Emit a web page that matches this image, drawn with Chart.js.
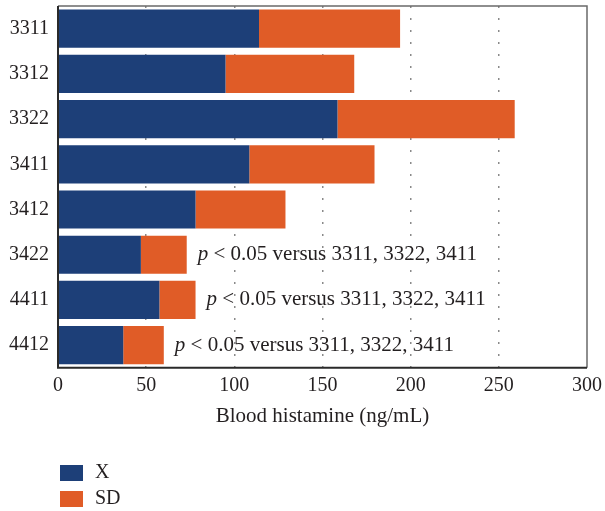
<!DOCTYPE html>
<html>
<head>
<meta charset="utf-8">
<script src="https://cdn.jsdelivr.net/npm/chart.js@4.4.1/dist/chart.umd.min.js"></script>
<style>
  html, body { margin: 0; padding: 0; background: #fff; }
  #wrap { width: 605px; height: 511px; position: relative; }
</style>
</head>
<body>
<div id="wrap"><canvas id="chart"></canvas></div>
<script>
// Blood histamine by group: mean (X) with SD stacked on top
const categories = ['3311', '3312', '3322', '3411', '3412', '3422', '4411', '4412'];
const meanValues = [114, 95, 158.5, 108.5, 78, 47, 57.5, 37];
const sdValues = [80, 73, 100.5, 71, 51, 26, 20.5, 23];
const xTicks = [0, 50, 100, 150, 200, 250, 300];
const seriesNames = ['X', 'SD'];
const markedGroups = ['3422', '4411', '4412'];
const noteRest = ' < 0.05 versus 3311, 3322, 3411';
const axisTitle = 'Blood histamine (ng/mL)';

const FONT = "'Liberation Serif', 'Times New Roman', serif";
const TEXT = '#231f20';
const BLUE = '#1d3f78';
const ORANGE = '#e05c27';

// Frame around the plot area
const framePlugin = {
  id: 'frame',
  afterDraw(chart) {
    const { ctx, chartArea: a } = chart;
    ctx.save();
    ctx.lineWidth = 1.5;
    ctx.strokeStyle = '#6a6a6a';
    ctx.beginPath();
    ctx.moveTo(a.left, a.top); ctx.lineTo(a.right, a.top); ctx.lineTo(a.right, a.bottom);
    ctx.stroke();
    ctx.lineWidth = 2;
    ctx.strokeStyle = '#2a2a2a';
    ctx.beginPath();
    ctx.moveTo(a.left, a.top); ctx.lineTo(a.left, a.bottom); ctx.lineTo(a.right, a.bottom);
    ctx.stroke();
    ctx.restore();
  }
};

// Significance notes to the right of selected bars
const notePlugin = {
  id: 'notes',
  afterDatasetsDraw(chart) {
    const { ctx } = chart;
    const xs = chart.scales.x, ys = chart.scales.y;
    ctx.save();
    ctx.fillStyle = TEXT;
    ctx.textBaseline = 'middle';
    markedGroups.forEach(g => {
      const i = categories.indexOf(g);
      const end = meanValues[i] + sdValues[i];
      let x = xs.getPixelForValue(end) + 11;
      const y = ys.getPixelForValue(i);
      ctx.font = "italic 21px " + FONT;
      ctx.fillText('p', x, y);
      x += ctx.measureText('p').width;
      ctx.font = "21px " + FONT;
      ctx.fillText(noteRest, x, y);
    });
    ctx.restore();
  }
};

// Vertical legend under the axis title
const stackedLegend = {
  id: 'stackedLegend',
  afterDraw(chart) {
    const { ctx } = chart;
    ctx.save();
    ctx.font = "20px " + FONT;
    ctx.textBaseline = 'middle';
    chart.data.datasets.forEach((ds, k) => {
      const top = 465 + k * 26;
      ctx.fillStyle = ds.backgroundColor;
      ctx.fillRect(60, top, 23, 16);
      ctx.fillStyle = TEXT;
      ctx.fillText(ds.label, 95, top + 8);
    });
    ctx.restore();
  }
};

new Chart(document.getElementById('chart'), {
  type: 'bar',
  data: {
    labels: categories,
    datasets: [
      { label: seriesNames[0], data: meanValues, backgroundColor: BLUE },
      { label: seriesNames[1], data: sdValues, backgroundColor: ORANGE }
    ]
  },
  options: {
    indexAxis: 'y',
    responsive: true,
    maintainAspectRatio: false,
    animation: false,
    datasets: { bar: { categoryPercentage: 1, barPercentage: 0.845, borderWidth: 0 } },
    layout: { padding: { left: 0, right: 18, top: 6, bottom: 82 } },
    plugins: { legend: { display: false }, tooltip: { enabled: false } },
    scales: {
      x: {
        stacked: true,
        min: 0, max: 300,
        afterBuildTicks(scale) { scale.ticks = xTicks.map(v => ({ value: v })); },
        afterFit(scale) { scale.paddingLeft = 0; scale.paddingRight = 0; },
        ticks: { color: TEXT, font: { family: FONT, size: 20 }, padding: 6 },
        border: { display: false, dash: [2, 10] },
        grid: {
          drawTicks: false,
          color: c => (c.tick && (c.tick.value === 0 || c.tick.value === 300)) ? 'rgba(0,0,0,0)' : '#8a8a8a',
          lineWidth: 1.5,
        },
        title: { display: true, text: axisTitle, color: TEXT, font: { family: FONT, size: 21 }, padding: { top: 0, bottom: 0 } }
      },
      y: {
        stacked: true,
        afterFit(scale) { scale.paddingTop = 0; scale.paddingBottom = 0; },
        ticks: { color: TEXT, font: { family: FONT, size: 20 }, padding: 9 },
        border: { display: false },
        grid: { display: false, drawTicks: false }
      }
    }
  },
  plugins: [framePlugin, notePlugin, stackedLegend]
});
</script>
</body>
</html>
